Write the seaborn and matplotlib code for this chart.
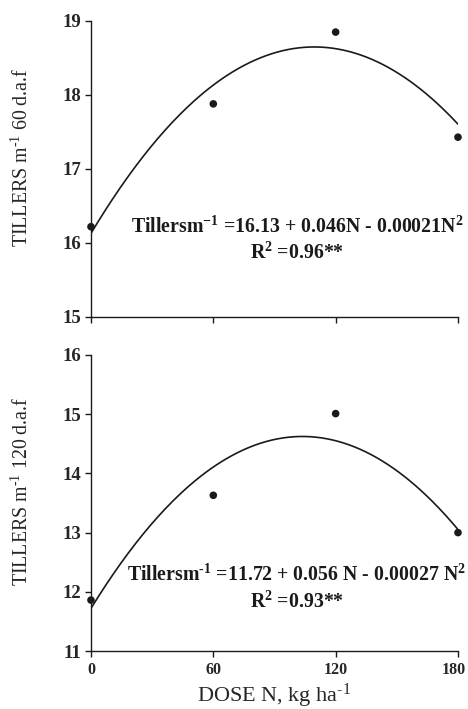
import numpy as np
import pandas as pd
import matplotlib
matplotlib.use("Agg")
import matplotlib.pyplot as plt
import matplotlib.transforms as mtransforms
import seaborn as sns

# ---- data ----
doses = [0, 60, 120, 180]
tillers_60 = [16.22, 17.88, 18.85, 17.43]
tillers_120 = [11.86, 13.63, 15.01, 13.00]
coef_60 = [16.13, 0.046, -0.00021]
coef_120 = [11.72, 0.056, -0.00027]
xticks = [0, 60, 120, 180]
yticks_60 = [15, 16, 17, 18, 19]
yticks_120 = [11, 12, 13, 14, 15, 16]
eq_60 = r"Tillersm$^{-1}$ =16.13 + 0.046N - 0.00021N$^{2}$"
r2_60 = r"R$^{2}$ =0.96**"
eq_120 = r"Tillersm$^{\text{-}1}$ =11.72 + 0.056 N - 0.00027 N$^{2}$"
r2_120 = r"R$^{2}$ =0.93**"
ylab_60 = r"TILLERS m$^{\text{-}1}$ 60 d.a.f"
ylab_120 = r"TILLERS m$^{\text{-}1}$ 120 d.a.f"
xlab = r"DOSE N, kg ha$^{\text{-}1}$"

sns.set_theme(style="ticks")
plt.rcParams['font.family'] = ['Liberation Serif', 'DejaVu Serif']
plt.rcParams['mathtext.fontset'] = 'custom'
plt.rcParams['mathtext.rm'] = 'Liberation Serif'
plt.rcParams['mathtext.bf'] = 'Liberation Serif:bold'
plt.rcParams['mathtext.it'] = 'Liberation Serif:italic'
plt.rcParams['mathtext.default'] = 'regular'

fig = plt.figure(figsize=(4.68, 7.09), dpi=100)
ax1 = fig.add_axes([0.1944, 0.5529, 0.7842, 0.4175])
ax2 = fig.add_axes([0.1944, 0.0818, 0.7842, 0.4175])

def draw(ax, y, coef, ylim, yticks, eq, r2, eqy, r2y, ylab, show_x):
    df = pd.DataFrame({"N": doses, "T": y})
    nn = np.linspace(0, 180, 200)
    fit = pd.DataFrame({"N": nn, "T": coef[0] + coef[1] * nn + coef[2] * nn ** 2})
    sns.lineplot(data=fit, x="N", y="T", ax=ax, color="#1a1a1a", lw=1.2)
    sns.scatterplot(data=df, x="N", y="T", ax=ax, color="#1a1a1a", s=30,
                    edgecolor="none", zorder=5, clip_on=False)
    ax.set_xlim(0, 180)
    ax.set_ylim(*ylim)
    ax.set_xticks(xticks)
    ax.set_yticks(yticks)
    sns.despine(ax=ax)
    for s in ["left", "bottom"]:
        ax.spines[s].set_linewidth(1.0)
        ax.spines[s].set_color("#1a1a1a")
    ax.tick_params(axis="both", length=4, width=1.0, color="#1a1a1a")
    ax.tick_params(axis="y", labelsize=13.5, pad=3)
    ax.tick_params(axis="x", labelsize=11.5, pad=4)
    for lab in ax.get_yticklabels() + ax.get_xticklabels():
        lab.set_fontweight("bold")
    if not show_x:
        ax.set_xticklabels([])
        ax.set_xlabel("")
    else:
        ax.set_xlabel(xlab, fontsize=16, labelpad=3)
        last = ax.get_xticklabels()[-1]
        last.set_transform(last.get_transform() +
                           mtransforms.ScaledTranslation(-4 / 100, 0, fig.dpi_scale_trans))
    ax.set_ylabel(ylab, fontsize=14.3)
    ax.yaxis.set_label_coords(-0.158, 0.54)
    ax.text(0.561, eqy, eq, transform=ax.transAxes, ha="center", va="center",
            fontsize=14.3, fontweight="bold", color="#1a1a1a")
    ax.text(0.561, r2y, r2, transform=ax.transAxes, ha="center", va="center",
            fontsize=14.3, fontweight="bold", color="#1a1a1a")

draw(ax1, tillers_60, coef_60, (15, 19), yticks_60, eq_60, r2_60,
     1 - (227 - 21) / 296, 1 - (253 - 21) / 296, ylab_60, False)
draw(ax2, tillers_120, coef_120, (11, 16), yticks_120, eq_120, r2_120,
     1 - (575 - 355) / 296, 1 - (602 - 355) / 296, ylab_120, True)

fig.savefig("out.png", dpi=100)
